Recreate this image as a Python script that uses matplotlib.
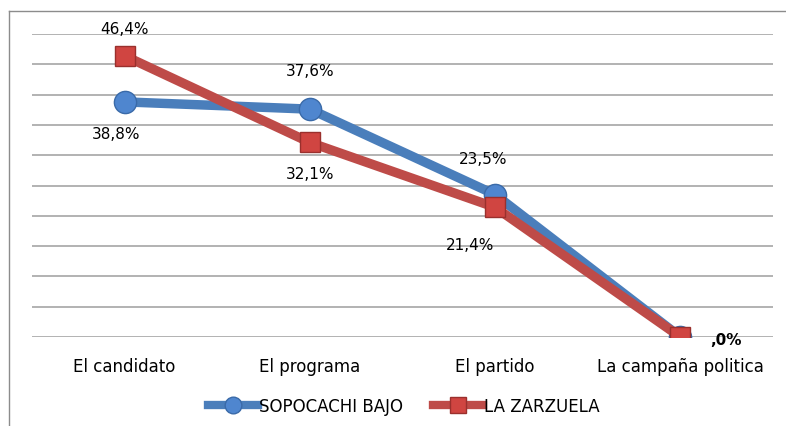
import matplotlib
matplotlib.use("Agg")
import matplotlib.pyplot as plt
from matplotlib.lines import Line2D

plt.rcParams['font.family'] = ['DejaVu Sans']

categories = ["El candidato", "El programa", "El partido", "La campaña politica"]
sopocachi = [38.8, 37.6, 23.5, 0.0]
zarzuela = [46.4, 32.1, 21.4, 0.0]
sopocachi_labels = ["38,8%", "37,6%", "23,5%", ""]
zarzuela_labels = ["46,4%", "32,1%", "21,4%", ",0%"]
series_names = ["SOPOCACHI BAJO", "LA ZARZUELA"]

fig = plt.figure(figsize=(7.86, 4.27), dpi=100)
ax = fig.add_axes([32/786, 1-338/427, (773-32)/786, (338-35)/427])

# outer chart frame (top and left visible)
fig.add_artist(Line2D([9/786, 1.0], [1-12/427, 1-12/427], color='#8c8c8c', lw=1.0))
fig.add_artist(Line2D([9/786, 9/786], [0, 1-12/427], color='#8c8c8c', lw=1.0))

x = list(range(len(categories)))
blue = '#4a7ebb'
red = '#be4b48'

ax.plot(x, sopocachi, color=blue, lw=6.8, marker='o', markersize=16,
        markerfacecolor='#4f86cf', markeredgecolor='#3a6aa8', markeredgewidth=1, zorder=3,
        solid_capstyle='round')
ax.plot(x, zarzuela, color=red, lw=6.8, marker='s', markersize=15,
        markerfacecolor='#d04541', markeredgecolor='#9a302d', markeredgewidth=1, zorder=4,
        solid_capstyle='round')

ax.set_xlim(-0.5, 3.5)
ax.set_ylim(0, 50)
ax.set_yticks([i * 5 for i in range(11)])
ax.yaxis.grid(True, color='#a6a6a6', lw=1.2)
ax.set_axisbelow(True)
ax.tick_params(axis='y', left=False, labelleft=False)
ax.tick_params(axis='x', bottom=False, labelsize=12, pad=11)
ax.set_xticks(x)
ax.set_xticklabels(categories)
for s in ax.spines.values():
    s.set_visible(False)

fs = 11
# blue labels
offs_b = [(-6, -23), (0, 28), (-9, 26), (0, 0)]
for i, (v, lab) in enumerate(zip(sopocachi, sopocachi_labels)):
    if lab:
        ax.annotate(lab, (i, v), xytext=offs_b[i], textcoords='offset points',
                    ha='center', va='center', fontsize=fs)
# red labels
offs_r = [(0, 20), (0, -22), (-18, -27), (33, -2)]
for i, (v, lab) in enumerate(zip(zarzuela, zarzuela_labels)):
    w = 'bold' if i == 3 else 'normal'
    ax.annotate(lab, (i, v), xytext=offs_r[i], textcoords='offset points',
                ha='center', va='center', fontsize=fs, fontweight=w)

handles = [
    Line2D([], [], color=blue, lw=6, marker='o', markersize=12,
           markerfacecolor='#4f86cf', markeredgecolor='#3a6aa8'),
    Line2D([], [], color=red, lw=6, marker='s', markersize=12,
           markerfacecolor='#d04541', markeredgecolor='#9a302d'),
]
fig.legend(handles, series_names, loc='center', bbox_to_anchor=(404/786, 1-407/427),
           ncol=2, frameon=False, fontsize=12, handlelength=3.0, handletextpad=0.05,
           columnspacing=1.8)

fig.savefig('out.png', dpi=100, facecolor='white')
